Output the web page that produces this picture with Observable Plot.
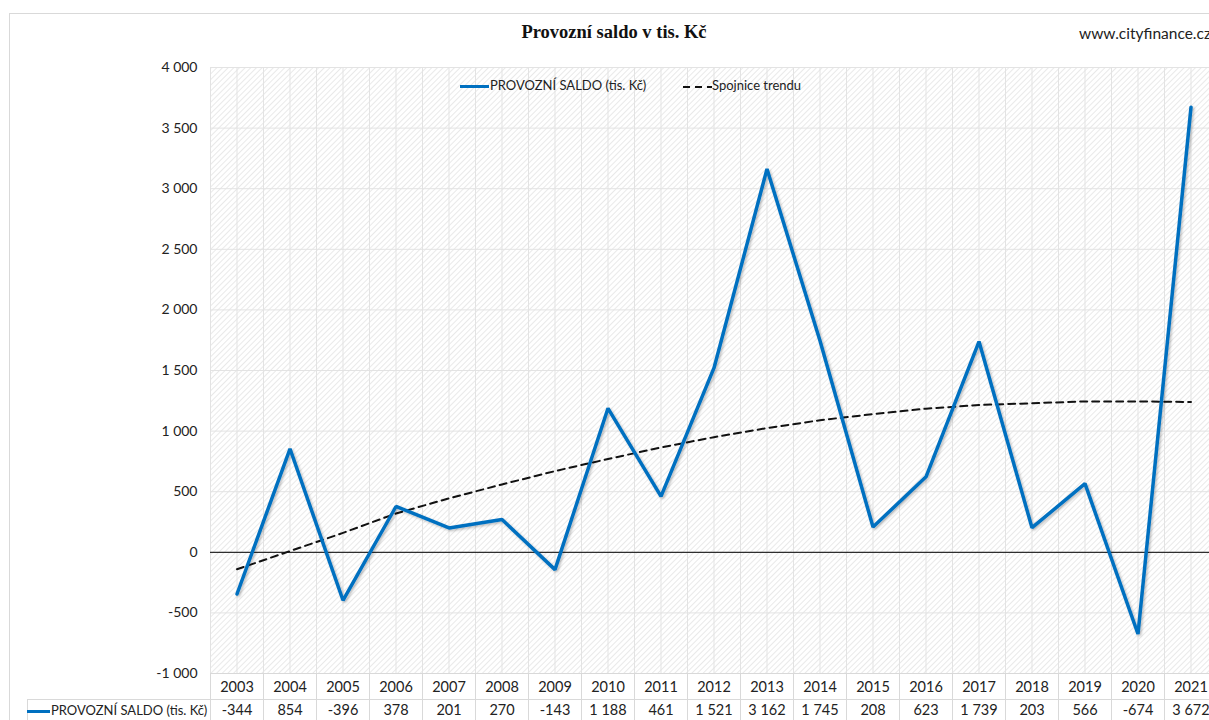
<!DOCTYPE html>
<html>
<head>
<meta charset="utf-8">
<script src="https://cdn.jsdelivr.net/npm/d3@7"></script>
<script src="https://cdn.jsdelivr.net/npm/@observablehq/plot@0.6"></script>
<style>
  html, body { margin:0; padding:0; background:#fff; overflow:hidden; }
  #wrap { position:relative; width:1209px; height:720px; overflow:hidden; font-family:Lato, "Open Sans", sans-serif; }
  #chart { position:absolute; left:0; top:0; width:1217px; }
  #chart svg { max-width:none !important; }
  .abs { position:absolute; white-space:nowrap; }
</style>
</head>
<body>
<div id="wrap">
  <div class="abs" style="left:9px;top:13px;width:1400px;height:900px;border:1px solid #d9d9d9;"></div>
  <div id="chart"></div>
  <div class="abs" id="title" style="left:0;width:1228px;top:22px;text-align:center;font-family:'Liberation Serif',serif;font-weight:bold;font-size:18.5px;color:#111;">Provozní saldo v tis. Kč</div>
  <div class="abs" style="left:1079px;top:24px;font-size:15.5px;color:#222;">www.cityfinance.cz</div>
  <div class="abs" style="left:460px;top:77px;font-size:13px;color:#222;">
    <span style="display:inline-block;width:29px;height:3.5px;background:#0070c0;vertical-align:middle;margin-right:1px;"></span>PROVOZNÍ SALDO (tis. Kč)
  </div>
  <div class="abs" style="left:682px;top:77px;font-size:13px;color:#222;">
    <svg width="30" height="6" style="vertical-align:middle;"><line x1="1" y1="3" x2="30" y2="3" stroke="#111" stroke-width="2" stroke-dasharray="7,5"/></svg>Spojnice trendu
  </div>
  <div class="abs" style="left:27px;top:702px;font-size:13px;color:#222;">
    <span style="display:inline-block;width:23px;height:3.5px;background:#0070c0;vertical-align:middle;margin-right:1px;"></span>PROVOZNÍ SALDO (tis. Kč)
  </div>
</div>
<script>
const years = [2003,2004,2005,2006,2007,2008,2009,2010,2011,2012,2013,2014,2015,2016,2017,2018,2019,2020,2021];
const saldo = [-344,854,-396,378,201,270,-143,1188,461,1521,3162,1745,208,623,1739,203,566,-674,3672];
const trend = [-140,10,160,320,445,560,670,770,865,950,1025,1090,1140,1185,1215,1230,1245,1245,1240];
const yTicks = [-1000,-500,0,500,1000,1500,2000,2500,3000,3500,4000];

const data = years.map((y,i)=>({year:y, saldo:saldo[i], trend:trend[i]}));
const fmt = v => d3.format(",")(v).replace(/,/g, " ").replace("−","-");
const gridX = years.flatMap(y=>[y-0.5, y]).concat([years[years.length-1]+0.5]);
const boundaries = years.map(y=>y-0.5).concat([years[years.length-1]+0.5]);

const chart = Plot.plot({
  width: 1217, height: 720,
  marginLeft: 210, marginRight: 0, marginTop: 67, marginBottom: 47,
  style: {fontFamily: "Lato, sans-serif", fontSize: "14px", color:"#222", background:"transparent", maxWidth:"none"},
  x: {type:"linear", domain:[2002.5, 2021.5], axis:null},
  y: {domain:[-1000, 4000], axis:null},
  marks: [
    Plot.frame({fill:"url(#hatch)", stroke:null}),
    Plot.ruleX(gridX, {stroke:"#e3e3e3", strokeWidth:1}),
    Plot.ruleY(yTicks, {stroke:"#e3e3e3", strokeWidth:1}),
    Plot.ruleY([0], {stroke:"#000", strokeWidth:1}),
    Plot.axisY({ticks:yTicks, tickSize:0, tickPadding:13, tickFormat:fmt, fontSize:14}),
    Plot.line(data, {x:"year", y:"trend", stroke:"#111", strokeWidth:2, strokeDasharray:"7,5"}),
    Plot.line(data, {x:"year", y:"saldo", stroke:"#0070c0", strokeWidth:3.5, strokeLinejoin:"miter"}),
    Plot.text(years, {x:d=>d, text:d=>String(d), frameAnchor:"bottom", dy:18, fontSize:14.5, fill:"#222"}),
    Plot.text(data, {x:"year", text:d=>fmt(d.saldo), frameAnchor:"bottom", dy:41, fontSize:14.5, fill:"#222"})
  ]
});
document.getElementById("chart").appendChild(chart);

const svg = d3.select(chart);
const defs = svg.insert("defs", ":first-child");
const pat = defs.append("pattern").attr("id","hatch").attr("patternUnits","userSpaceOnUse")
  .attr("width",4).attr("height",4).attr("patternTransform","rotate(45)");
pat.append("rect").attr("width",4).attr("height",4).attr("fill","#fff");
pat.append("line").attr("x1",0).attr("y1",0).attr("x2",0).attr("y2",4).attr("stroke","#e4e4e4").attr("stroke-width",1.6);

const f = defs.append("filter").attr("id","sh").attr("x","-5%").attr("y","-5%").attr("width","110%").attr("height","110%");
f.append("feDropShadow").attr("dx",1.5).attr("dy",1.5).attr("stdDeviation",1.2).attr("flood-color","#000").attr("flood-opacity",0.25);
svg.selectAll("g[stroke='#0070c0']").attr("filter","url(#sh)");

// data table grid
const xs = chart.scale("x"), ys = chart.scale("y");
const tTop = ys.apply(-1000), tMid = tTop + 26, tBot = 720;
const g = svg.append("g").attr("stroke","#d9d9d9").attr("stroke-width",1);
boundaries.forEach(b => {
  const x = Math.round(xs.apply(b)) + 0.5;
  g.append("line").attr("x1",x).attr("x2",x).attr("y1",tTop).attr("y2",tBot);
});
g.append("line").attr("x1",xs.apply(2002.5)).attr("x2",1217).attr("y1",tTop+0.5).attr("y2",tTop+0.5);
g.append("line").attr("x1",27).attr("x2",1217).attr("y1",tMid+0.5).attr("y2",tMid+0.5);
g.append("line").attr("x1",27.5).attr("x2",27.5).attr("y1",tMid).attr("y2",tBot);
</script>
</body>
</html>
